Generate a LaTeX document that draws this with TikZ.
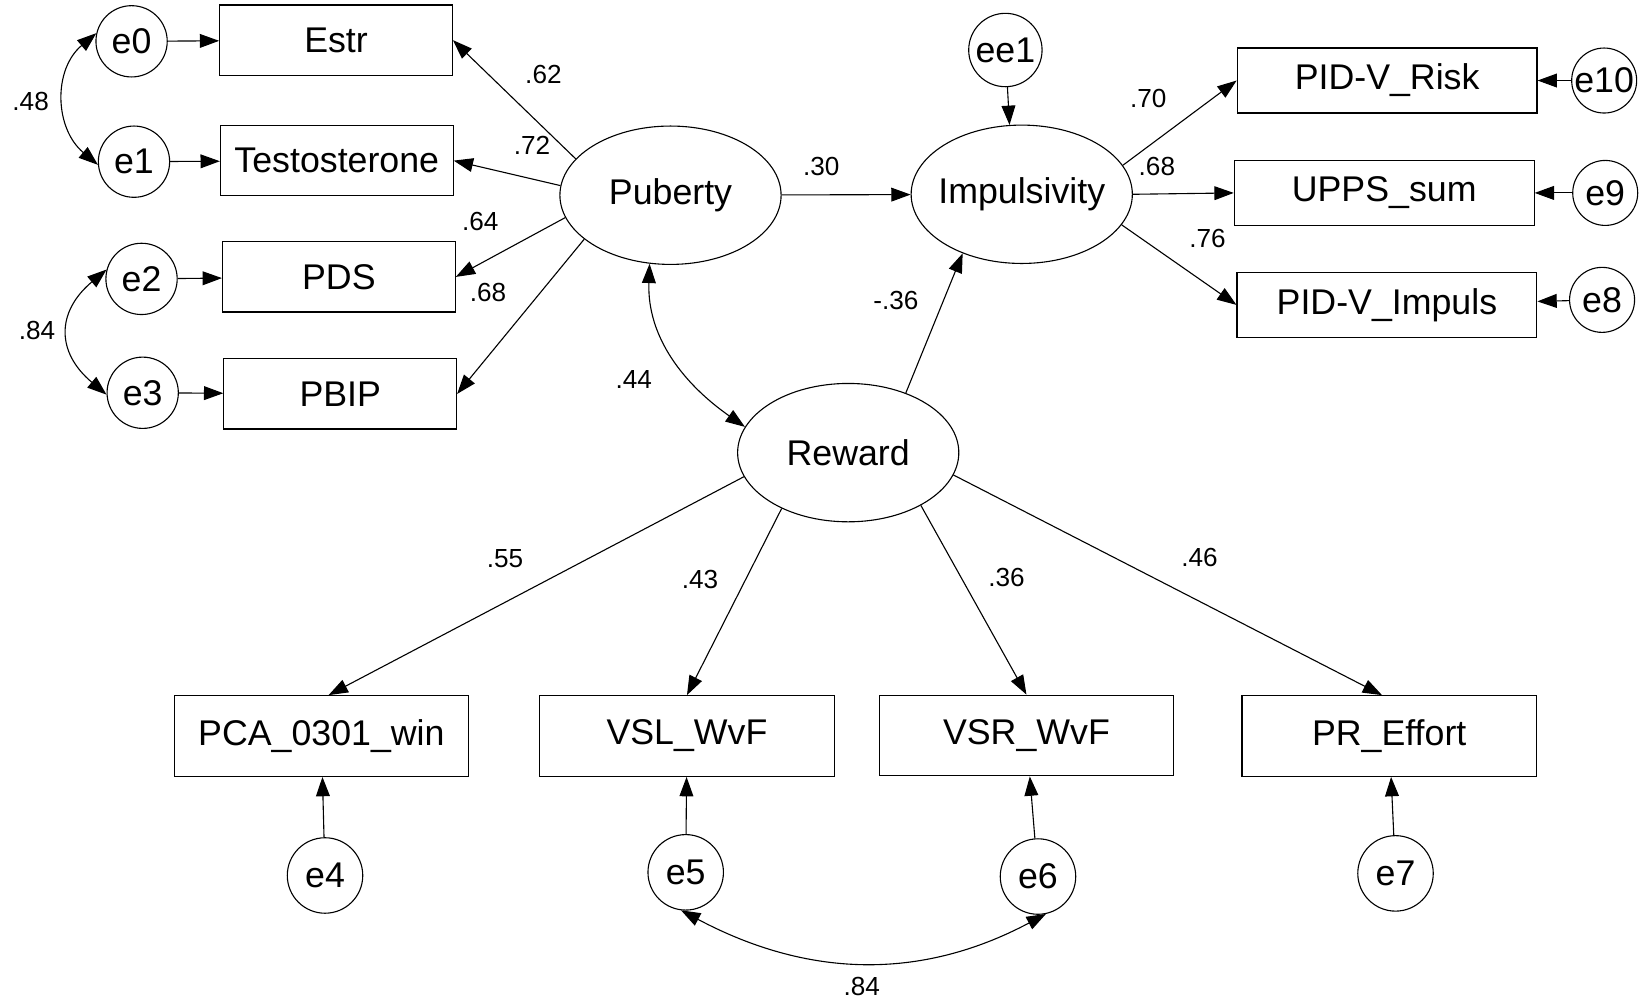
\documentclass[tikz,border=0pt]{standalone}
\usepackage{fontspec}
\setmainfont{Liberation Sans}
\usetikzlibrary{shapes.geometric,arrows.meta}

\begin{document}
\begin{tikzpicture}[x=0.02cm,y=-0.02cm,->,>={Triangle[length=10.5pt,width=7.5pt]},line width=0.6pt,
                    boxx/.style={rectangle, draw=black, minimum width=4.44cm, minimum height=1.34cm, text centered, font=\fontsize{19.4}{23}\selectfont},
                    wideboxx/.style={boxx, minimum width=5.72cm, minimum height=1.24cm},
                    lowboxx/.style={boxx, minimum width=5.62cm, minimum height=1.54cm},
                    latentt/.style={ellipse, draw=black, inner sep=0pt, inner xsep=-6pt, minimum width=4.22cm, minimum height=2.64cm, font=\fontsize{19.4}{23}\selectfont},
                    errorr/.style={circle, draw=black, inner sep=0pt, minimum size=1.36cm, font=\fontsize{19.4}{23}\selectfont},
                    coeff/.style={inner sep=0pt, font=\fontsize{14.2}{17}\selectfont}]
  \useasboundingbox (0,0) rectangle (1568,957);

  % latent variables
  \node (Puberty) [latentt] at (639.5,186.2) {Puberty};
  \node (Impulsivity) [latentt] at (974.5,185.3) {Impulsivity};
  \node (Reward) [latentt] at (809,431.7) {Reward};

  % puberty indicators
  \node (Estr) [boxx] at (320.5,38.3) {Estr};
  \node (Testosterone) [boxx] at (321.2,153.2) {Testosterone};
  \node (PDS) [boxx] at (323.2,264.1) {PDS};
  \node (PBIP) [boxx] at (324.5,375.7) {PBIP};
  \node (E0) [errorr] at (125.5,39.4) {e0};
  \node (E1) [errorr] at (127.8,154.2) {e1};
  \node (E2) [errorr] at (135,266) {e2};
  \node (E3) [errorr] at (136.1,374.6) {e3};

  % impulsivity indicators
  \node (Risk) [wideboxx] at (1323,76.8) {PID-V\_Risk};
  \node (UPPS) [wideboxx] at (1320.2,184) {UPPS\_sum};
  \node (Impuls) [wideboxx] at (1322.8,290.8) {PID-V\_Impuls};
  \node (EE1) [errorr, minimum size=1.4cm] at (958.9,47.7) {ee1};
  \node (E10) [errorr, minimum size=1.24cm] at (1530,76.8) {e10};
  \node (E9) [errorr, minimum size=1.24cm] at (1531,184) {e9};
  \node (E8) [errorr, minimum size=1.24cm] at (1528,286) {e8};

  % reward indicators
  \node (PCA) [lowboxx] at (306.5,702) {PCA\_0301\_win};
  \node (VSL) [lowboxx] at (655.2,702) {VSL\_WvF};
  \node (VSR) [lowboxx] at (979,701.5) {VSR\_WvF};
  \node (PR) [lowboxx] at (1325,702) {PR\_Effort};
  \node (E4) [errorr, minimum size=1.44cm] at (310,835) {e4};
  \node (E5) [errorr, minimum size=1.44cm] at (654,832) {e5};
  \node (E6) [errorr, minimum size=1.44cm] at (990,836) {e6};
  \node (E7) [errorr, minimum size=1.44cm] at (1331,833) {e7};

  \path
    (E0) edge (Estr)
    (E1) edge (Testosterone)
    (E2) edge (PDS)
    (E3) edge (PBIP)
    (Puberty.159) edge (Estr.east)
    (Puberty.175) edge (Testosterone.east)
    (Puberty.192) edge (PDS.east)
    (Puberty.207) edge (PBIP.east)
    (Puberty) edge (Impulsivity)
    (EE1) edge (Impulsivity.100)
    (Reward.46) edge (Impulsivity.225)
    (Impulsivity.16) edge (Risk.west)
    (Impulsivity.east) edge (UPPS.west)
    (Impulsivity.-17) edge (Impuls.west)
    (E10) edge (Risk)
    (E9) edge (UPPS)
    (E8) edge (Impuls)
    (Reward.193) edge (PCA.80)
    (Reward.220) edge (VSL.north)
    (Reward.324) edge (VSR.north)
    (Reward.348) edge (PR.100)
    (E4) edge (PCA)
    (E5) edge (VSL)
    (E6) edge (VSR)
    (E7) edge (PR)
    ;

  % covariances
  \path[<->]
    (E0.167) edge[out=-140, in=140, looseness=1.1] (E1.185)
    (E2.165) edge[out=-140, in=140, looseness=1.35] (E3.183)
    (Puberty.253) edge[out=-92, in=145] (Reward.166)
    (E5.263) edge[out=-28, in=-152] (E6.282)
    ;

  % estimates
  \node (cE0E1) [coeff] at (29.2,97) {.48};
  \node (cE2E3) [coeff] at (35.4,314.8) {.84};
  \node (cEstr) [coeff] at (518.3,70.8) {.62};
  \node (cTesto) [coeff] at (507.4,138.5) {.72};
  \node (cPDS) [coeff] at (458,211.5) {.64};
  \node (cPBIP) [coeff] at (465.4,278.5) {.68};
  \node (cPubImp) [coeff] at (783.3,159) {.30};
  \node (cRewImp) [coeff] at (854.5,286.4) {-.36};
  \node (cPubRew) [coeff] at (604.5,362) {.44};
  \node (cRisk) [coeff] at (1095.2,94.4) {.70};
  \node (cUPPS) [coeff] at (1103.4,158.4) {.68};
  \node (cImpuls) [coeff] at (1151.7,227.9) {.76};
  \node (cPCA) [coeff] at (481.6,533) {.55};
  \node (cVSL) [coeff] at (667.6,553) {.43};
  \node (cVSR) [coeff] at (960,550.8) {.36};
  \node (cPR) [coeff] at (1144,532) {.46};
  \node (cE5E6) [coeff] at (822,940.6) {.84};
\end{tikzpicture}
\end{document}
